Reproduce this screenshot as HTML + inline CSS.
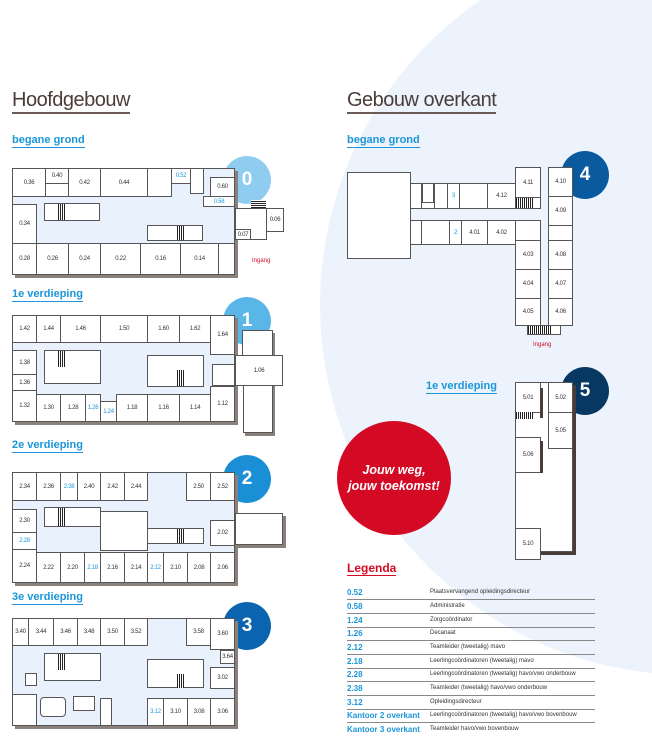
<!DOCTYPE html>
<html><head><meta charset="utf-8"><style>
*{margin:0;padding:0;box-sizing:border-box}
body{width:652px;height:745px;position:relative;overflow:hidden;background:#fff;font-family:"Liberation Sans",sans-serif}
.bg{position:absolute;left:320px;top:-65px;width:740px;height:740px;border-radius:50%;background:#ecf3fd}
.a{position:absolute}
.r{position:absolute;border:1px solid #555;background:#fff;font-size:6px;color:#333;display:flex;align-items:center;justify-content:center;letter-spacing:-0.3px}
.b{color:#1a96d8}
.bl{position:absolute;background:#e8f1fc;border:1px solid #555}
.sh{position:absolute;background:#8a807c}
.h1{position:absolute;font-size:20px;color:#4a3c38;letter-spacing:-0.5px;border-bottom:2px solid #6b5a55;padding-bottom:1px;line-height:21px}
.h2{position:absolute;font-size:11px;font-weight:bold;color:#1a96d8;border-bottom:1.5px solid #1a96d8;line-height:13px}
.c{position:absolute;width:48px;height:48px;border-radius:50%;color:#fff;font-size:19px;font-weight:bold;display:flex;align-items:center;justify-content:center}
.st{position:absolute;background:repeating-linear-gradient(90deg,#222 0 1px,#fff 1px 2px)}
.lg{position:absolute;left:347px;width:248px;height:14px;border-bottom:1px solid #888;font-size:8px}
.lg b{position:absolute;left:0;top:2px;color:#1a96d8}
.lg span{position:absolute;left:83px;top:3px;font-size:6px;color:#333}
</style></head><body>
<div class="bg"></div>

<div class="h1" style="left:12px;top:90px">Hoofdgebouw</div>
<div class="h1" style="left:347px;top:90px">Gebouw overkant</div>
<div class="h2" style="left:12px;top:134px">begane grond</div>
<div class="h2" style="left:347px;top:134px">begane grond</div>
<div class="h2" style="left:12px;top:288px">1e verdieping</div>
<div class="h2" style="left:12px;top:439px">2e verdieping</div>
<div class="h2" style="left:12px;top:591px">3e verdieping</div>
<div class="h2" style="left:426px;top:380px">1e verdieping</div>

<!-- Floor 0 -->
<div class="c" style="left:223px;top:156px;background:#8fcdf0">0</div>
<div class="sh" style="left:15px;top:171px;width:223px;height:107px"></div>
<div class="bl" style="left:12px;top:168px;width:223px;height:107px"></div>
<div class="r" style="left:12px;top:168px;width:34px;height:29px">0.36</div>
<div class="r" style="left:45px;top:168px;width:24px;height:16px">0.40</div>
<div class="r" style="left:45px;top:183px;width:24px;height:14px"></div>
<div class="r" style="left:68px;top:168px;width:33px;height:29px">0.42</div>
<div class="r" style="left:100px;top:168px;width:48px;height:29px">0.44</div>
<div class="r" style="left:147px;top:168px;width:25px;height:29px"></div>
<div class="r" style="left:171px;top:168px;width:20px;height:16px"><span class="b">0.52</span></div>
<div class="r" style="left:190px;top:168px;width:14px;height:26px"></div>
<div class="r" style="left:210px;top:177px;width:25px;height:20px">0.60</div>
<div class="r" style="left:203px;top:196px;width:32px;height:11px"><span class="b">0.58</span></div>
<div class="r" style="left:12px;top:204px;width:25px;height:40px">0.34</div>
<div class="r" style="left:44px;top:203px;width:56px;height:18px"></div>
<div class="st" style="left:58px;top:204px;width:7px;height:16px"></div>
<div class="r" style="left:147px;top:225px;width:56px;height:16px"></div>
<div class="st" style="left:177px;top:226px;width:7px;height:14px"></div>
<div class="r" style="left:12px;top:243px;width:25px;height:32px">0.28</div>
<div class="r" style="left:36px;top:243px;width:33px;height:32px">0.26</div>
<div class="r" style="left:68px;top:243px;width:33px;height:32px">0.24</div>
<div class="r" style="left:100px;top:243px;width:41px;height:32px">0.22</div>
<div class="r" style="left:140px;top:243px;width:41px;height:32px">0.16</div>
<div class="r" style="left:180px;top:243px;width:39px;height:32px">0.14</div>
<div class="r" style="left:218px;top:243px;width:17px;height:32px"></div>
<div class="r" style="left:235px;top:208px;width:32px;height:32px"></div>
<div class="r" style="left:235px;top:229px;width:16px;height:11px">0.07</div>
<div class="r" style="left:266px;top:208px;width:18px;height:24px">0.06</div>
<div class="a" style="left:251px;top:200px;width:15px;height:8px;background:repeating-linear-gradient(0deg,#222 0 1px,#fff 1px 2px)"></div>
<div class="a" style="left:252px;top:258px;font-size:6px;color:#d40a25">Ingang</div>

<!-- Floor 1 -->
<div class="c" style="left:223px;top:297px;background:#5bb6e8">1</div>
<div class="sh" style="left:15px;top:318px;width:223px;height:107px"></div>
<div class="bl" style="left:12px;top:315px;width:223px;height:107px"></div>
<div class="r" style="left:12px;top:315px;width:25px;height:28px">1.42</div>
<div class="r" style="left:36px;top:315px;width:25px;height:28px">1.44</div>
<div class="r" style="left:60px;top:315px;width:41px;height:28px">1.46</div>
<div class="r" style="left:100px;top:315px;width:48px;height:28px">1.50</div>
<div class="r" style="left:147px;top:315px;width:33px;height:28px">1.60</div>
<div class="r" style="left:179px;top:315px;width:32px;height:28px">1.62</div>
<div class="r" style="left:210px;top:315px;width:25px;height:40px">1.64</div>
<div class="r" style="left:12px;top:350px;width:25px;height:25px">1.38</div>
<div class="r" style="left:12px;top:374px;width:25px;height:17px">1.36</div>
<div class="r" style="left:12px;top:390px;width:25px;height:32px">1.32</div>
<div class="r" style="left:44px;top:350px;width:57px;height:34px"></div>
<div class="st" style="left:58px;top:351px;width:7px;height:16px"></div>
<div class="r" style="left:147px;top:355px;width:57px;height:32px"></div>
<div class="st" style="left:177px;top:370px;width:7px;height:16px"></div>
<div class="r" style="left:36px;top:394px;width:25px;height:28px">1.30</div>
<div class="r" style="left:60px;top:394px;width:26px;height:28px">1.28</div>
<div class="r" style="left:85px;top:394px;width:16px;height:28px"><span class="b">1.26</span></div>
<div class="r" style="left:100px;top:401px;width:17px;height:21px"><span class="b">1.24</span></div>
<div class="r" style="left:116px;top:394px;width:32px;height:28px">1.18</div>
<div class="r" style="left:147px;top:394px;width:33px;height:28px">1.16</div>
<div class="r" style="left:179px;top:394px;width:32px;height:28px">1.14</div>
<div class="r" style="left:210px;top:386px;width:25px;height:36px">1.12</div>
<div class="r" style="left:212px;top:364px;width:23px;height:22px"></div>
<div class="sh" style="left:245px;top:333px;width:30px;height:103px"></div>
<div class="r" style="left:242px;top:330px;width:31px;height:26px"></div>
<div class="r" style="left:235px;top:355px;width:48px;height:31px">1.06</div>
<div class="r" style="left:243px;top:385px;width:30px;height:48px"></div>

<!-- Floor 2 -->
<div class="c" style="left:223px;top:455px;background:#1a8fd6">2</div>
<div class="sh" style="left:15px;top:475px;width:223px;height:111px"></div>
<div class="bl" style="left:12px;top:472px;width:223px;height:111px"></div>
<div class="r" style="left:12px;top:472px;width:25px;height:29px">2.34</div>
<div class="r" style="left:36px;top:472px;width:25px;height:29px">2.36</div>
<div class="r" style="left:60px;top:472px;width:18px;height:29px"><span class="b">2.38</span></div>
<div class="r" style="left:77px;top:472px;width:24px;height:29px">2.40</div>
<div class="r" style="left:100px;top:472px;width:25px;height:29px">2.42</div>
<div class="r" style="left:124px;top:472px;width:24px;height:29px">2.44</div>
<div class="r" style="left:186px;top:472px;width:25px;height:29px">2.50</div>
<div class="r" style="left:210px;top:472px;width:25px;height:29px">2.52</div>
<div class="r" style="left:12px;top:509px;width:25px;height:24px">2.30</div>
<div class="r" style="left:12px;top:532px;width:25px;height:18px"><span class="b">2.28</span></div>
<div class="r" style="left:12px;top:549px;width:25px;height:34px">2.24</div>
<div class="r" style="left:44px;top:507px;width:57px;height:20px"></div>
<div class="st" style="left:58px;top:508px;width:7px;height:18px"></div>
<div class="r" style="left:100px;top:511px;width:48px;height:40px"></div>
<div class="r" style="left:147px;top:528px;width:57px;height:16px"></div>
<div class="st" style="left:177px;top:529px;width:7px;height:14px"></div>
<div class="r" style="left:210px;top:520px;width:25px;height:26px">2.02</div>
<div class="r" style="left:36px;top:552px;width:25px;height:31px">2.22</div>
<div class="r" style="left:60px;top:552px;width:25px;height:31px">2.20</div>
<div class="r" style="left:84px;top:552px;width:17px;height:31px"><span class="b">2.18</span></div>
<div class="r" style="left:100px;top:552px;width:25px;height:31px">2.16</div>
<div class="r" style="left:124px;top:552px;width:24px;height:31px">2.14</div>
<div class="r" style="left:147px;top:552px;width:17px;height:31px"><span class="b">2.12</span></div>
<div class="r" style="left:163px;top:552px;width:25px;height:31px">2.10</div>
<div class="r" style="left:187px;top:552px;width:24px;height:31px">2.08</div>
<div class="r" style="left:210px;top:552px;width:25px;height:31px">2.06</div>
<div class="sh" style="left:238px;top:516px;width:48px;height:32px"></div>
<div class="r" style="left:235px;top:513px;width:48px;height:32px"></div>

<!-- Floor 3 -->
<div class="c" style="left:223px;top:602px;background:#0a64b0">3</div>
<div class="sh" style="left:15px;top:621px;width:223px;height:108px"></div>
<div class="bl" style="left:12px;top:618px;width:223px;height:108px"></div>
<div class="r" style="left:12px;top:618px;width:17px;height:28px">3.40</div>
<div class="r" style="left:28px;top:618px;width:26px;height:28px">3.44</div>
<div class="r" style="left:53px;top:618px;width:25px;height:28px">3.46</div>
<div class="r" style="left:77px;top:618px;width:24px;height:28px">3.48</div>
<div class="r" style="left:100px;top:618px;width:25px;height:28px">3.50</div>
<div class="r" style="left:124px;top:618px;width:24px;height:28px">3.52</div>
<div class="r" style="left:186px;top:618px;width:25px;height:28px">3.58</div>
<div class="r" style="left:210px;top:618px;width:25px;height:32px">3.60</div>
<div class="r" style="left:220px;top:650px;width:15px;height:14px">3.64</div>
<div class="r" style="left:210px;top:667px;width:25px;height:22px">3.02</div>
<div class="r" style="left:44px;top:653px;width:57px;height:28px"></div>
<div class="st" style="left:58px;top:654px;width:7px;height:16px"></div>
<div class="r" style="left:147px;top:659px;width:57px;height:29px"></div>
<div class="st" style="left:177px;top:674px;width:7px;height:14px"></div>
<div class="r" style="left:25px;top:673px;width:12px;height:13px"></div>
<div class="r" style="left:12px;top:694px;width:25px;height:32px"></div>
<div class="r" style="left:40px;top:697px;width:26px;height:20px;border-radius:4px"></div>
<div class="r" style="left:73px;top:696px;width:22px;height:15px"></div>
<div class="r" style="left:100px;top:698px;width:12px;height:28px"></div>
<div class="r" style="left:147px;top:698px;width:17px;height:28px"><span class="b">3.12</span></div>
<div class="r" style="left:163px;top:698px;width:25px;height:28px">3.10</div>
<div class="r" style="left:187px;top:698px;width:24px;height:28px">3.08</div>
<div class="r" style="left:210px;top:698px;width:25px;height:28px">3.06</div>

<!-- Building 4 -->
<div class="c" style="left:561px;top:151px;background:#0a5aa0">4</div>
<div class="r" style="left:347px;top:172px;width:64px;height:87px"></div>
<div class="r" style="left:410px;top:183px;width:106px;height:26px"></div>
<div class="r" style="left:410px;top:183px;width:12px;height:26px"></div>
<div class="r" style="left:422px;top:183px;width:12px;height:20px"></div>
<div class="r" style="left:434px;top:183px;width:14px;height:26px"></div>
<div class="r" style="left:447px;top:183px;width:13px;height:26px"><span class="b">3</span></div>
<div class="r" style="left:487px;top:183px;width:29px;height:26px">4.12</div>
<div class="r" style="left:515px;top:167px;width:26px;height:32px">4.11</div>
<div class="r" style="left:515px;top:197px;width:26px;height:12px"></div>
<div class="st" style="left:516px;top:198px;width:17px;height:10px"></div>
<div class="r" style="left:548px;top:167px;width:25px;height:30px">4.10</div>
<div class="r" style="left:548px;top:196px;width:25px;height:30px">4.09</div>
<div class="r" style="left:410px;top:220px;width:131px;height:25px"></div>
<div class="r" style="left:410px;top:220px;width:12px;height:25px"></div>
<div class="r" style="left:449px;top:220px;width:13px;height:25px"><span class="b">2</span></div>
<div class="r" style="left:461px;top:220px;width:27px;height:25px">4.01</div>
<div class="r" style="left:487px;top:220px;width:29px;height:25px">4.02</div>
<div class="r" style="left:515px;top:220px;width:26px;height:21px"></div>
<div class="r" style="left:515px;top:240px;width:26px;height:30px">4.03</div>
<div class="r" style="left:515px;top:269px;width:26px;height:30px">4.04</div>
<div class="r" style="left:515px;top:298px;width:26px;height:28px">4.05</div>
<div class="r" style="left:548px;top:225px;width:25px;height:16px"></div>
<div class="r" style="left:548px;top:240px;width:25px;height:30px">4.08</div>
<div class="r" style="left:548px;top:269px;width:25px;height:30px">4.07</div>
<div class="r" style="left:548px;top:298px;width:25px;height:28px">4.06</div>
<div class="r" style="left:527px;top:325px;width:34px;height:10px"></div>
<div class="st" style="left:528px;top:326px;width:24px;height:8px"></div>
<div class="a" style="left:533px;top:342px;font-size:6px;color:#d40a25">Ingang</div>

<!-- Building 5 -->
<div class="c" style="left:561px;top:367px;background:#063862">5</div>
<div class="a" style="left:517px;top:385px;width:59px;height:170px;background:#4a3c38"></div>
<div class="r" style="left:515px;top:382px;width:58px;height:170px"></div>
<div class="r" style="left:515px;top:382px;width:26px;height:31px">5.01</div>
<div class="a" style="left:540px;top:388px;width:3px;height:30px;background:#4a3c38"></div>
<div class="st" style="left:516px;top:412px;width:17px;height:7px"></div>
<div class="r" style="left:548px;top:382px;width:25px;height:31px">5.02</div>
<div class="r" style="left:548px;top:412px;width:25px;height:37px">5.05</div>
<div class="r" style="left:515px;top:437px;width:26px;height:36px">5.06</div>
<div class="a" style="left:540px;top:441px;width:3px;height:32px;background:#4a3c38"></div>
<div class="r" style="left:515px;top:528px;width:26px;height:32px">5.10</div>

<!-- Red circle -->
<div class="a" style="left:337px;top:421px;width:114px;height:114px;border-radius:50%;background:#d40a25;color:#fff;font-style:italic;font-weight:bold;font-size:12.5px;line-height:16px;display:flex;align-items:center;justify-content:center;text-align:center">Jouw weg,<br>jouw toekomst!</div>

<!-- Legenda -->
<div class="a" style="left:347px;top:562px;font-size:12px;font-weight:bold;color:#d40a25;border-bottom:1.5px solid #d40a25;line-height:13px">Legenda</div>
<div class="lg" style="top:586px"><b>0.52</b><span>Plaatsvervangend opleidingsdirecteur</span></div>
<div class="lg" style="top:600px"><b>0.58</b><span>Administratie</span></div>
<div class="lg" style="top:614px"><b>1.24</b><span>Zorgcoördinator</span></div>
<div class="lg" style="top:627px"><b>1.26</b><span>Decanaat</span></div>
<div class="lg" style="top:641px"><b>2.12</b><span>Teamleider (tweetalig) mavo</span></div>
<div class="lg" style="top:655px"><b>2.18</b><span>Leerlingcoördinatoren (tweetalig) mavo</span></div>
<div class="lg" style="top:668px"><b>2.28</b><span>Leerlingcoördinatoren (tweetalig) havo/vwo onderbouw</span></div>
<div class="lg" style="top:682px"><b>2.38</b><span>Teamleider (tweetalig) havo/vwo onderbouw</span></div>
<div class="lg" style="top:696px"><b>3.12</b><span>Opleidingsdirecteur</span></div>
<div class="lg" style="top:709px"><b>Kantoor 2 overkant</b><span>Leerlingcoördinatoren (tweetalig) havo/vwo bovenbouw</span></div>
<div class="lg" style="top:723px;border-bottom:none"><b>Kantoor 3 overkant</b><span>Teamleider havo/vwo bovenbouw</span></div>
</body></html>
